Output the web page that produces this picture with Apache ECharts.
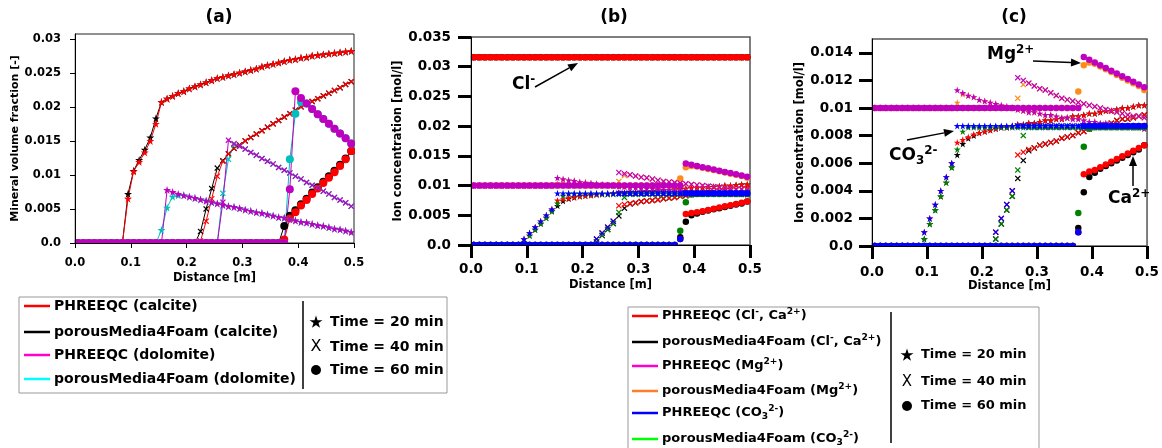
<!DOCTYPE html>
<html>
<head>
<meta charset="utf-8">
<title>Mineral volume fraction and ion concentration</title>
<script src="https://cdn.jsdelivr.net/npm/echarts@6/dist/echarts.min.js"></script>
<style>
  html, body { margin: 0; padding: 0; background: #fff; }
  #chart { width: 1162px; height: 448px; }
</style>
</head>
<body>
<div id="chart"></div>
<script>
var FONT = 'DejaVu Sans';

// cell centres along the column [m]
var distance = [
    0.005, 0.015, 0.025, 0.035, 0.045, 0.055, 0.065, 0.075, 0.085, 0.095,
    0.105, 0.115, 0.125, 0.135, 0.145, 0.155, 0.165, 0.175, 0.185, 0.195,
    0.205, 0.215, 0.225, 0.235, 0.245, 0.255, 0.265, 0.275, 0.285, 0.295,
    0.305, 0.315, 0.325, 0.335, 0.345, 0.355, 0.365, 0.375, 0.385, 0.395,
    0.405, 0.415, 0.425, 0.435, 0.445, 0.455, 0.465, 0.475, 0.485, 0.495
];

// tick labels
var xTicks = [0, 0.1, 0.2, 0.3, 0.4, 0.5];
var yTicksA = [0, 0.005, 0.01, 0.015, 0.02, 0.025, 0.03];
var yTicksB = [0, 0.005, 0.01, 0.015, 0.02, 0.025, 0.03, 0.035];
var yTicksC = [0, 0.002, 0.004, 0.006, 0.008, 0.01, 0.012, 0.014];

// ---- (a) mineral volume fraction [-] ----
var calcitePhreeqc20 = [
    0, 0, 0, 0, 0, 0, 0, 0, 0, 0.0065,
    0.0105, 0.0119, 0.0133, 0.0150, 0.0175, 0.0207, 0.0212, 0.0216, 0.0220, 0.0223,
    0.0227, 0.0230, 0.0233, 0.0236, 0.0239, 0.0242, 0.0244, 0.0246, 0.0248, 0.0250,
    0.0252, 0.0254, 0.0256, 0.0259, 0.0261, 0.0263, 0.0265, 0.0267, 0.0269, 0.0270,
    0.0272, 0.0273, 0.0275, 0.0276, 0.0277, 0.0278, 0.0279, 0.0280, 0.0281, 0.0282
];
var calciteFoam20 = [
    0, 0, 0, 0, 0, 0, 0, 0, 0, 0.0072,
    0.0106, 0.0122, 0.0137, 0.0155, 0.0183, 0.0207, 0.0212, 0.0216, 0.0220, 0.0223,
    0.0227, 0.0230, 0.0233, 0.0236, 0.0239, 0.0242, 0.0244, 0.0246, 0.0248, 0.0250,
    0.0252, 0.0254, 0.0256, 0.0259, 0.0261, 0.0263, 0.0265, 0.0267, 0.0269, 0.0270,
    0.0272, 0.0273, 0.0275, 0.0276, 0.0277, 0.0278, 0.0279, 0.0280, 0.0281, 0.0282
];
var calcitePhreeqc40 = [
    0, 0, 0, 0, 0, 0, 0, 0, 0, 0,
    0, 0, 0, 0, 0, 0, 0, 0, 0, 0,
    0, 0, 0.0003, 0.0032, 0.0065, 0.0098, 0.0120, 0.0131, 0.0139, 0.0144,
    0.0150, 0.0155, 0.0160, 0.0165, 0.0170, 0.0175, 0.0180, 0.0185, 0.0190, 0.0195,
    0.0200, 0.0204, 0.0208, 0.0212, 0.0216, 0.0220, 0.0224, 0.0228, 0.0233, 0.0237
];
var calciteFoam40 = [
    0, 0, 0, 0, 0, 0, 0, 0, 0, 0,
    0, 0, 0, 0, 0, 0, 0, 0, 0, 0,
    0, 0, 0.0017, 0.0050, 0.0080, 0.0110, 0.0121, 0.0131, 0.0139, 0.0144,
    0.0150, 0.0155, 0.0160, 0.0165, 0.0170, 0.0175, 0.0180, 0.0185, 0.0190, 0.0195,
    0.0200, 0.0204, 0.0208, 0.0212, 0.0216, 0.0220, 0.0224, 0.0228, 0.0233, 0.0237
];
var calcitePhreeqc60 = [
    0, 0, 0, 0, 0, 0, 0, 0, 0, 0,
    0, 0, 0, 0, 0, 0, 0, 0, 0, 0,
    0, 0, 0, 0, 0, 0, 0, 0, 0, 0,
    0, 0, 0, 0, 0, 0, 0, 0.0005, 0.0036, 0.0045,
    0.0055, 0.0063, 0.0072, 0.0080, 0.0088, 0.0096, 0.0104, 0.0113, 0.0123, 0.0135
];
var calciteFoam60 = [
    0, 0, 0, 0, 0, 0, 0, 0, 0, 0,
    0, 0, 0, 0, 0, 0, 0, 0, 0, 0,
    0, 0, 0, 0, 0, 0, 0, 0, 0, 0,
    0, 0, 0, 0, 0, 0, 0, 0.0025, 0.0040, 0.0048,
    0.0057, 0.0065, 0.0074, 0.0082, 0.0090, 0.0098, 0.0106, 0.0115, 0.0124, 0.0135
];
var dolomitePhreeqc20 = [
    0, 0, 0, 0, 0, 0, 0, 0, 0, 0,
    0, 0, 0, 0, 0, 0, 0.0078, 0.0075, 0.0072, 0.0070,
    0.0068, 0.0066, 0.0064, 0.0062, 0.0060, 0.0058, 0.0056, 0.0054, 0.0053, 0.0051,
    0.0049, 0.0047, 0.0045, 0.0044, 0.0042, 0.0040, 0.0038, 0.0037, 0.0035, 0.0033,
    0.0031, 0.0030, 0.0028, 0.0026, 0.0025, 0.0023, 0.0021, 0.0020, 0.0018, 0.0016
];
var dolomiteFoam20 = [
    0, 0, 0, 0, 0, 0, 0, 0, 0, 0,
    0, 0, 0, 0, 0, 0.0019, 0.0052, 0.0068, 0.0070, 0.0070,
    0.0068, 0.0066, 0.0064, 0.0062, 0.0060, 0.0058, 0.0056, 0.0054, 0.0053, 0.0051,
    0.0049, 0.0047, 0.0045, 0.0044, 0.0042, 0.0040, 0.0038, 0.0037, 0.0035, 0.0033,
    0.0031, 0.0030, 0.0028, 0.0026, 0.0025, 0.0023, 0.0021, 0.0020, 0.0018, 0.0016
];
var dolomitePhreeqc40 = [
    0, 0, 0, 0, 0, 0, 0, 0, 0, 0,
    0, 0, 0, 0, 0, 0, 0, 0, 0, 0,
    0, 0, 0, 0, 0, 0, 0.0060, 0.0151, 0.0146, 0.0142,
    0.0138, 0.0133, 0.0129, 0.0124, 0.0120, 0.0116, 0.0111, 0.0107, 0.0103, 0.0098,
    0.0094, 0.0089, 0.0085, 0.0081, 0.0076, 0.0072, 0.0067, 0.0063, 0.0059, 0.0054
];
var dolomiteFoam40 = [
    0, 0, 0, 0, 0, 0, 0, 0, 0, 0,
    0, 0, 0, 0, 0, 0, 0, 0, 0, 0,
    0, 0, 0, 0, 0, 0, 0.0073, 0.0123, 0.0144, 0.0142,
    0.0138, 0.0133, 0.0129, 0.0124, 0.0120, 0.0116, 0.0111, 0.0107, 0.0103, 0.0098,
    0.0094, 0.0089, 0.0085, 0.0081, 0.0076, 0.0072, 0.0067, 0.0063, 0.0059, 0.0054
];
var dolomitePhreeqc60 = [
    0, 0, 0, 0, 0, 0, 0, 0, 0, 0,
    0, 0, 0, 0, 0, 0, 0, 0, 0, 0,
    0, 0, 0, 0, 0, 0, 0, 0, 0, 0,
    0, 0, 0, 0, 0, 0, 0, 0, 0.0079, 0.0223,
    0.0213, 0.0205, 0.0197, 0.0189, 0.0182, 0.0175, 0.0168, 0.0161, 0.0154, 0.0146
];
var dolomiteFoam60 = [
    0, 0, 0, 0, 0, 0, 0, 0, 0, 0,
    0, 0, 0, 0, 0, 0, 0, 0, 0, 0,
    0, 0, 0, 0, 0, 0, 0, 0, 0, 0,
    0, 0, 0, 0, 0, 0, 0, 0, 0.0123, 0.0190,
    0.0207, 0.0205, 0.0197, 0.0189, 0.0182, 0.0175, 0.0168, 0.0161, 0.0154, 0.0146
];

// ---- (b), (c) ion concentration [mol/l] ----
// Cl- does not change with time
var chloride = [
    0.0316, 0.0316, 0.0316, 0.0316, 0.0316, 0.0316, 0.0316, 0.0316, 0.0316, 0.0316,
    0.0316, 0.0316, 0.0316, 0.0316, 0.0316, 0.0316, 0.0316, 0.0316, 0.0316, 0.0316,
    0.0316, 0.0316, 0.0316, 0.0316, 0.0316, 0.0316, 0.0316, 0.0316, 0.0316, 0.0316,
    0.0316, 0.0316, 0.0316, 0.0316, 0.0316, 0.0316, 0.0316, 0.0316, 0.0316, 0.0316,
    0.0316, 0.0316, 0.0316, 0.0316, 0.0316, 0.0316, 0.0316, 0.0316, 0.0316, 0.0316
];
var calciumPhreeqc20 = [
    0, 0, 0, 0, 0, 0, 0, 0, 0, 0.0010,
    0.0020, 0.0030, 0.0040, 0.0050, 0.0060, 0.0075, 0.0077, 0.0079, 0.0081, 0.0082,
    0.0083, 0.0084, 0.0085, 0.0086, 0.0086, 0.0087, 0.0088, 0.0088, 0.0089, 0.0089,
    0.0090, 0.0091, 0.0091, 0.0092, 0.0092, 0.0093, 0.0094, 0.0094, 0.0095, 0.0096,
    0.0096, 0.0097, 0.0098, 0.0098, 0.0099, 0.0100, 0.0100, 0.0101, 0.0102, 0.0102
];
var calciumFoam20 = [
    0, 0, 0, 0, 0, 0, 0, 0, 0, 0.0005,
    0.0016, 0.0026, 0.0036, 0.0046, 0.0057, 0.0066, 0.0074, 0.0078, 0.0080, 0.0082,
    0.0083, 0.0084, 0.0085, 0.0086, 0.0086, 0.0087, 0.0088, 0.0088, 0.0089, 0.0089,
    0.0090, 0.0091, 0.0091, 0.0092, 0.0092, 0.0093, 0.0094, 0.0094, 0.0095, 0.0096,
    0.0096, 0.0097, 0.0098, 0.0098, 0.0099, 0.0100, 0.0100, 0.0101, 0.0102, 0.0102
];
var calciumPhreeqc40 = [
    0, 0, 0, 0, 0, 0, 0, 0, 0, 0,
    0, 0, 0, 0, 0, 0, 0, 0, 0, 0,
    0, 0, 0.0010, 0.0020, 0.0030, 0.0040, 0.0066, 0.0068, 0.0070, 0.0071,
    0.0073, 0.0074, 0.0075, 0.0076, 0.0078, 0.0079, 0.0080, 0.0082, 0.0083, 0.0085,
    0.0086, 0.0087, 0.0088, 0.0089, 0.0091, 0.0092, 0.0092, 0.0093, 0.0094, 0.0095
];
var calciumFoam40 = [
    0, 0, 0, 0, 0, 0, 0, 0, 0, 0,
    0, 0, 0, 0, 0, 0, 0, 0, 0, 0,
    0, 0, 0.0005, 0.0016, 0.0026, 0.0036, 0.0049, 0.0062, 0.0069, 0.0071,
    0.0073, 0.0074, 0.0075, 0.0076, 0.0078, 0.0079, 0.0080, 0.0082, 0.0083, 0.0085,
    0.0086, 0.0087, 0.0088, 0.0089, 0.0091, 0.0092, 0.0092, 0.0093, 0.0094, 0.0095
];
var calciumPhreeqc60 = [
    0, 0, 0, 0, 0, 0, 0, 0, 0, 0,
    0, 0, 0, 0, 0, 0, 0, 0, 0, 0,
    0, 0, 0, 0, 0, 0, 0, 0, 0, 0,
    0, 0, 0, 0, 0, 0, 0, 0.0010, 0.0052, 0.0054,
    0.0055, 0.0057, 0.0059, 0.0061, 0.0063, 0.0065, 0.0067, 0.0069, 0.0071, 0.0073
];
var calciumFoam60 = [
    0, 0, 0, 0, 0, 0, 0, 0, 0, 0,
    0, 0, 0, 0, 0, 0, 0, 0, 0, 0,
    0, 0, 0, 0, 0, 0, 0, 0, 0, 0,
    0, 0, 0, 0, 0, 0, 0, 0.0013, 0.0039, 0.0050,
    0.0053, 0.0056, 0.0058, 0.0060, 0.0062, 0.0064, 0.0066, 0.0068, 0.0070, 0.0073
];
var magnesiumPhreeqc20 = [
    0.0100, 0.0100, 0.0100, 0.0100, 0.0100, 0.0100, 0.0100, 0.0100, 0.0100, 0.0100,
    0.0100, 0.0100, 0.0100, 0.0100, 0.0100, 0.0113, 0.0111, 0.0109, 0.0108, 0.0106,
    0.0105, 0.0104, 0.0103, 0.0102, 0.0101, 0.0100, 0.0099, 0.0098, 0.0097, 0.0097,
    0.0096, 0.0095, 0.0095, 0.0094, 0.0093, 0.0093, 0.0092, 0.0092, 0.0091, 0.0090,
    0.0090, 0.0089, 0.0089, 0.0088, 0.0088, 0.0087, 0.0087, 0.0086, 0.0086, 0.0085
];
var magnesiumFoam20 = [
    0.0100, 0.0100, 0.0100, 0.0100, 0.0100, 0.0100, 0.0100, 0.0100, 0.0100, 0.0100,
    0.0100, 0.0100, 0.0100, 0.0100, 0.0100, 0.0104, 0.0110, 0.0109, 0.0108, 0.0106,
    0.0105, 0.0104, 0.0103, 0.0102, 0.0101, 0.0100, 0.0099, 0.0098, 0.0097, 0.0097,
    0.0096, 0.0095, 0.0095, 0.0094, 0.0093, 0.0093, 0.0092, 0.0092, 0.0091, 0.0090,
    0.0090, 0.0089, 0.0089, 0.0088, 0.0088, 0.0087, 0.0087, 0.0086, 0.0086, 0.0085
];
var magnesiumPhreeqc40 = [
    0.0100, 0.0100, 0.0100, 0.0100, 0.0100, 0.0100, 0.0100, 0.0100, 0.0100, 0.0100,
    0.0100, 0.0100, 0.0100, 0.0100, 0.0100, 0.0100, 0.0100, 0.0100, 0.0100, 0.0100,
    0.0100, 0.0100, 0.0100, 0.0100, 0.0100, 0.0100, 0.0122, 0.0120, 0.0118, 0.0116,
    0.0114, 0.0113, 0.0111, 0.0109, 0.0107, 0.0106, 0.0105, 0.0104, 0.0103, 0.0102,
    0.0101, 0.0100, 0.0099, 0.0098, 0.0097, 0.0096, 0.0095, 0.0094, 0.0094, 0.0093
];
var magnesiumFoam40 = [
    0.0100, 0.0100, 0.0100, 0.0100, 0.0100, 0.0100, 0.0100, 0.0100, 0.0100, 0.0100,
    0.0100, 0.0100, 0.0100, 0.0100, 0.0100, 0.0100, 0.0100, 0.0100, 0.0100, 0.0100,
    0.0100, 0.0100, 0.0100, 0.0100, 0.0100, 0.0100, 0.0107, 0.0117, 0.0118, 0.0116,
    0.0114, 0.0113, 0.0111, 0.0109, 0.0107, 0.0106, 0.0105, 0.0104, 0.0103, 0.0102,
    0.0101, 0.0100, 0.0099, 0.0098, 0.0097, 0.0096, 0.0095, 0.0094, 0.0094, 0.0093
];
var magnesiumPhreeqc60 = [
    0.0100, 0.0100, 0.0100, 0.0100, 0.0100, 0.0100, 0.0100, 0.0100, 0.0100, 0.0100,
    0.0100, 0.0100, 0.0100, 0.0100, 0.0100, 0.0100, 0.0100, 0.0100, 0.0100, 0.0100,
    0.0100, 0.0100, 0.0100, 0.0100, 0.0100, 0.0100, 0.0100, 0.0100, 0.0100, 0.0100,
    0.0100, 0.0100, 0.0100, 0.0100, 0.0100, 0.0100, 0.0100, 0.0100, 0.0137, 0.0135,
    0.0133, 0.0131, 0.0129, 0.0127, 0.0125, 0.0123, 0.0121, 0.0119, 0.0117, 0.0115
];
var magnesiumFoam60 = [
    0.0100, 0.0100, 0.0100, 0.0100, 0.0100, 0.0100, 0.0100, 0.0100, 0.0100, 0.0100,
    0.0100, 0.0100, 0.0100, 0.0100, 0.0100, 0.0100, 0.0100, 0.0100, 0.0100, 0.0100,
    0.0100, 0.0100, 0.0100, 0.0100, 0.0100, 0.0100, 0.0100, 0.0100, 0.0100, 0.0100,
    0.0100, 0.0100, 0.0100, 0.0100, 0.0100, 0.0100, 0.0100, 0.0112, 0.0131, 0.0133,
    0.0132, 0.0130, 0.0128, 0.0126, 0.0124, 0.0122, 0.0120, 0.0118, 0.0116, 0.0113
];
var carbonatePhreeqc20 = [
    0, 0, 0, 0, 0, 0, 0, 0, 0, 0.0010,
    0.0020, 0.0030, 0.0040, 0.0050, 0.0060, 0.0087, 0.0087, 0.0087, 0.0087, 0.0087,
    0.0087, 0.0087, 0.0087, 0.0087, 0.0087, 0.0087, 0.0087, 0.0087, 0.0087, 0.0087,
    0.0087, 0.0087, 0.0087, 0.0087, 0.0087, 0.0087, 0.0087, 0.0087, 0.0087, 0.0087,
    0.0087, 0.0087, 0.0087, 0.0087, 0.0087, 0.0087, 0.0087, 0.0087, 0.0087, 0.0087
];
var carbonateFoam20 = [
    0, 0, 0, 0, 0, 0, 0, 0, 0, 0.0005,
    0.0016, 0.0026, 0.0036, 0.0046, 0.0057, 0.0070, 0.0083, 0.0086, 0.0086, 0.0086,
    0.0086, 0.0086, 0.0086, 0.0086, 0.0086, 0.0086, 0.0086, 0.0086, 0.0086, 0.0086,
    0.0086, 0.0086, 0.0086, 0.0086, 0.0086, 0.0086, 0.0086, 0.0086, 0.0086, 0.0086,
    0.0086, 0.0086, 0.0086, 0.0086, 0.0086, 0.0086, 0.0086, 0.0086, 0.0086, 0.0086
];
var carbonatePhreeqc40 = [
    0, 0, 0, 0, 0, 0, 0, 0, 0, 0,
    0, 0, 0, 0, 0, 0, 0, 0, 0, 0,
    0, 0, 0.0010, 0.0020, 0.0030, 0.0040, 0.0087, 0.0087, 0.0087, 0.0087,
    0.0087, 0.0087, 0.0087, 0.0087, 0.0087, 0.0087, 0.0087, 0.0087, 0.0087, 0.0087,
    0.0087, 0.0087, 0.0087, 0.0087, 0.0087, 0.0087, 0.0087, 0.0087, 0.0087, 0.0087
];
var carbonateFoam40 = [
    0, 0, 0, 0, 0, 0, 0, 0, 0, 0,
    0, 0, 0, 0, 0, 0, 0, 0, 0, 0,
    0, 0, 0.0005, 0.0016, 0.0026, 0.0036, 0.0055, 0.0080, 0.0086, 0.0086,
    0.0086, 0.0086, 0.0086, 0.0086, 0.0086, 0.0086, 0.0086, 0.0086, 0.0086, 0.0086,
    0.0086, 0.0086, 0.0086, 0.0086, 0.0086, 0.0086, 0.0086, 0.0086, 0.0086, 0.0086
];
var carbonatePhreeqc60 = [
    0, 0, 0, 0, 0, 0, 0, 0, 0, 0,
    0, 0, 0, 0, 0, 0, 0, 0, 0, 0,
    0, 0, 0, 0, 0, 0, 0, 0, 0, 0,
    0, 0, 0, 0, 0, 0, 0, 0.0010, 0.0087, 0.0087,
    0.0087, 0.0087, 0.0087, 0.0087, 0.0087, 0.0087, 0.0087, 0.0087, 0.0087, 0.0087
];
var carbonateFoam60 = [
    0, 0, 0, 0, 0, 0, 0, 0, 0, 0,
    0, 0, 0, 0, 0, 0, 0, 0, 0, 0,
    0, 0, 0, 0, 0, 0, 0, 0, 0, 0,
    0, 0, 0, 0, 0, 0, 0, 0.0024, 0.0072, 0.0085,
    0.0086, 0.0086, 0.0086, 0.0086, 0.0086, 0.0086, 0.0086, 0.0086, 0.0086, 0.0086
];

// marker shapes, one per time (points in a 100x100 box)
var STAR_POINTS = [ [50, 0], [61.8, 36.2], [100, 36.2], [69.1, 58.6], [80.9, 95],
    [50, 72.4], [19.1, 95], [30.9, 58.6], [0, 36.2], [38.2, 36.2] ];
var CROSS_POINTS = [ [0, 14], [14, 0], [50, 36], [86, 0], [100, 14], [64, 50],
    [100, 86], [86, 100], [50, 64], [14, 100], [0, 86], [36, 50] ];

function toPath(points) {
    return 'path://M' + points.map(function(p) { return p[0] + ',' + p[1]; }).join(' L') + ' Z';
}

var MARKER = { 20 : toPath(STAR_POINTS), 40 : toPath(CROSS_POINTS), 60 : 'circle' };

var RED = '#ff0000', BLACK = '#000000', MAGENTA = '#bf00bf', CYAN = '#00bfbf',
    ORANGE = '#ff8c1a', BLUE = '#0000ff', GREEN = '#008000';

// plot rectangles [left, top, width, height]
var GRIDS = [ [ 75, 34, 279, 209 ], [ 471, 37, 279, 208 ], [ 872, 39, 280, 207 ] ];

var page = {
    chart : null,
    /**
     * 页面初始化
     */
    init : function() {
        this.chart = echarts.init(document.getElementById('chart'), null, { renderer : 'canvas' });
        this.chart.setOption({
            animation : false,
            backgroundColor : '#fff',
            grid : GRIDS.map(function(g, i) {
                return {
                    left : g[0], top : g[1], width : g[2], height : g[3], show : true,
                    borderColor : i === 0 ? '#222' : '#555', borderWidth : i === 0 ? 1 : 1.5
                };
            }),
            xAxis : [
                this.xAxis(0, 11.5, 14, 5, 1, 29),
                this.xAxis(1, 13.5, 17, 13, 3, 34),
                this.xAxis(2, 13.5, 19, 13, 3, 25)
            ],
            yAxis : [
                this.yAxis(0, 0.0307, yTicksA, 'Mineral volume fraction [-]', 11.5, 14, 5, 1, 52),
                this.yAxis(1, 0.035, yTicksB, 'Ion concentration [mol/l]', 13.5, 20, 13, 3, 63),
                this.yAxis(2, 0.015, yTicksC, 'Ion concentration [mol/l]', 13.5, 19, 13, 3, 64)
            ],
            series : this.mineralSeries().concat(this.ionSeries(1), this.ionSeries(2)),
            graphic : { elements : this.decorations() }
        });
    },
    pairs : function(values) {
        return distance.map(function(x, i) {
            return [ x, values[i] ];
        });
    },
    tickText : function(v) {
        return v === 0 ? '0.0' : String(parseFloat(v.toFixed(4)));
    },
    xAxis : function(g, size, margin, tickLen, tickWidth, nameGap) {
        return {
            type : 'value', gridIndex : g, min : 0, max : 0.5, interval : 0.1, z : 10,
            name : 'Distance [m]', nameLocation : 'middle', nameGap : nameGap,
            nameTextStyle : { fontFamily : FONT, fontWeight : 'bold', fontSize : 11.5, color : '#000' },
            axisLine : { show : true, onZero : false, lineStyle : { color : '#000', width : 1 } },
            axisTick : { show : true, length : tickLen, customValues : xTicks, lineStyle : { color : '#000', width : tickWidth } },
            axisLabel : {
                fontFamily : FONT, fontWeight : 'bold', fontSize : size, color : '#000', margin : margin,
                customValues : xTicks,
                formatter : function(v) { return v.toFixed(1); }
            },
            splitLine : { show : false }
        };
    },
    yAxis : function(g, max, ticks, name, size, margin, tickLen, tickWidth, nameGap) {
        var self = this;
        return {
            type : 'value', gridIndex : g, min : 0, max : max, z : 10,
            name : name, nameLocation : 'middle', nameGap : nameGap,
            nameTextStyle : { fontFamily : FONT, fontWeight : 'bold', fontSize : g === 0 ? 11 : 11.5, color : '#000' },
            axisLine : { show : true, onZero : false, lineStyle : { color : '#000', width : 1 } },
            axisTick : { show : true, length : tickLen, customValues : ticks, lineStyle : { color : '#000', width : tickWidth } },
            axisLabel : {
                fontFamily : FONT, fontWeight : 'bold', fontSize : size, color : '#000', margin : margin,
                customValues : ticks,
                formatter : function(v) { return self.tickText(v); }
            },
            splitLine : { show : false }
        };
    },
    /**
     * (a) 矿物体积分数，折线 + 标记
     */
    mineralSeries : function() {
        var rows = [
            [ calciteFoam20, BLACK, 20 ], [ calciteFoam40, BLACK, 40 ], [ calciteFoam60, BLACK, 60 ],
            [ calcitePhreeqc20, RED, 20 ], [ calcitePhreeqc40, RED, 40 ], [ calcitePhreeqc60, RED, 60 ],
            [ dolomiteFoam20, CYAN, 20 ], [ dolomiteFoam40, CYAN, 40 ], [ dolomiteFoam60, CYAN, 60 ],
            [ dolomitePhreeqc20, MAGENTA, 20 ], [ dolomitePhreeqc40, MAGENTA, 40 ], [ dolomitePhreeqc60, MAGENTA, 60 ]
        ];
        var size = { 20 : 8, 40 : 6, 60 : 8 };
        var self = this;
        return rows.map(function(r) {
            return {
                type : 'line', xAxisIndex : 0, yAxisIndex : 0,
                data : self.pairs(r[0]),
                symbol : MARKER[r[2]], symbolSize : size[r[2]], showSymbol : true,
                lineStyle : { color : r[1], width : 1 },
                itemStyle : { color : r[1] },
                clip : true
            };
        });
    },
    /**
     * (b)(c) 离子浓度，只画标记
     */
    ionSeries : function(g) {
        var rows = [
            [ chloride, BLACK, 20 ], [ chloride, BLACK, 40 ], [ chloride, BLACK, 60 ],
            [ chloride, RED, 20 ], [ chloride, RED, 40 ], [ chloride, RED, 60 ],
            [ calciumFoam20, BLACK, 20 ], [ calciumFoam40, BLACK, 40 ], [ calciumFoam60, BLACK, 60 ],
            [ calciumPhreeqc20, RED, 20 ], [ calciumPhreeqc40, RED, 40 ], [ calciumPhreeqc60, RED, 60 ],
            [ magnesiumFoam20, ORANGE, 20 ], [ magnesiumFoam40, ORANGE, 40 ], [ magnesiumFoam60, ORANGE, 60 ],
            [ magnesiumPhreeqc20, MAGENTA, 20 ], [ magnesiumPhreeqc40, MAGENTA, 40 ], [ magnesiumPhreeqc60, MAGENTA, 60 ],
            [ carbonateFoam20, GREEN, 20 ], [ carbonateFoam40, GREEN, 40 ], [ carbonateFoam60, GREEN, 60 ],
            [ carbonatePhreeqc20, BLUE, 20 ], [ carbonatePhreeqc40, BLUE, 40 ], [ carbonatePhreeqc60, BLUE, 60 ]
        ];
        var size = { 20 : 7, 40 : 6, 60 : 6.5 };
        var self = this;
        return rows.map(function(r) {
            return {
                type : 'scatter', xAxisIndex : g, yAxisIndex : g,
                data : self.pairs(r[0]),
                symbol : MARKER[r[2]], symbolSize : size[r[2]],
                itemStyle : { color : r[1], opacity : 1 },
                clip : true
            };
        });
    },
    /**
     * 白色遮罩，把落在坐标框外的半个标记裁掉（坐标轴 z 更高，仍在上面）
     */
    masks : function() {
        var els = [];
        GRIDS.forEach(function(g) {
            els.push({ type : 'rect', z : 5, shape : { x : g[0] - 6, y : g[1] + g[3] + 0.5, width : g[2] + 12, height : 5 },
                style : { fill : '#fff' } });
            els.push({ type : 'rect', z : 5, shape : { x : g[0] - 6, y : g[1] - 5, width : 5.5, height : g[3] + 10 },
                style : { fill : '#fff' } });
            els.push({ type : 'rect', z : 5, shape : { x : g[0] + g[2] + 1, y : g[1] - 5, width : 5, height : g[3] + 10 },
                style : { fill : '#fff' } });
        });
        return els;
    },
    rich : function(size) {
        return {
            sup : { fontFamily : FONT, fontWeight : 'bold', fontSize : size * 0.7, verticalAlign : 'top', lineHeight : size * 0.72, fill : '#000' },
            sub : { fontFamily : FONT, fontWeight : 'bold', fontSize : size * 0.7, verticalAlign : 'bottom', lineHeight : size * 0.72, fill : '#000' }
        };
    },
    text : function(str, x, y, size, align, weight) {
        return {
            type : 'text', x : x, y : y, z : 100,
            style : {
                text : str, fontFamily : FONT, fontWeight : weight || 'bold', fontSize : size,
                fill : '#000', align : align || 'left', verticalAlign : 'middle',
                lineHeight : Math.round(size * 1.3), rich : this.rich(size)
            }
        };
    },
    arrow : function(x1, y1, x2, y2) {
        var ang = Math.atan2(y2 - y1, x2 - x1), len = 10, w = 4;
        var bx = x2 - len * Math.cos(ang), by = y2 - len * Math.sin(ang);
        var px = -Math.sin(ang) * w, py = Math.cos(ang) * w;
        return [ {
            type : 'line', z : 100,
            shape : { x1 : x1, y1 : y1, x2 : bx, y2 : by },
            style : { stroke : '#000', lineWidth : 1.5 }
        }, {
            type : 'polygon', z : 100,
            shape : { points : [ [ x2, y2 ], [ bx + px, by + py ], [ bx - px, by - py ] ] },
            style : { fill : '#000' }
        } ];
    },
    legend : function(box, entries, divider, times, size) {
        var self = this;
        var els = [ {
            type : 'rect', z : 90,
            shape : box,
            style : { fill : '#fff', stroke : '#999', lineWidth : 1 }
        }, {
            type : 'line', z : 100,
            shape : { x1 : divider.x, y1 : divider.y1, x2 : divider.x, y2 : divider.y2 },
            style : { stroke : '#000', lineWidth : 1.5 }
        } ];
        entries.forEach(function(e) {
            els.push({
                type : 'line', z : 100,
                shape : { x1 : e.x, y1 : e.y, x2 : e.x + 26, y2 : e.y },
                style : { stroke : e.color, lineWidth : 2.5 }
            });
            els.push(self.text(e.label, e.x + 30, e.y, size));
        });
        // time markers
        els.push({
            type : 'polygon', z : 100,
            shape : { points : STAR_POINTS.map(function(p) {
                return [ times.x - 6.5 + p[0] * 0.13, times.y[0] - 6.5 + p[1] * 0.13 ];
            }) },
            style : { fill : '#000' }
        });
        els.push(this.text('X', times.x, times.y[1], size + 2, 'center', 'normal'));
        els.push({
            type : 'circle', z : 100,
            shape : { cx : times.x, cy : times.y[2], r : 5 },
            style : { fill : '#000' }
        });
        els.push(this.text('Time = 20 min', times.x + 14, times.y[0], size));
        els.push(this.text('Time = 40 min', times.x + 14, times.y[1], size));
        els.push(this.text('Time = 60 min', times.x + 14, times.y[2], size));
        return els;
    },
    decorations : function() {
        var els = this.masks().concat([
            this.text('(a)', 219, 18, 17, 'center'),
            this.text('(b)', 614, 18, 17, 'center'),
            this.text('(c)', 1014, 18, 17, 'center'),
            this.text('Cl{sup|-}', 512, 85, 17),
            this.text('Mg{sup|2+}', 987, 55, 17),
            this.text('CO{sub|3}{sup|2-}', 889, 156, 17),
            this.text('Ca{sup|2+}', 1108, 199, 17)
        ]);
        els = els.concat(
            this.arrow(535, 87, 578, 63),
            this.arrow(1033, 61, 1081, 63),
            this.arrow(907, 140, 954, 131),
            this.arrow(1133, 186, 1133, 156)
        );
        els = els.concat(this.legend(
            { x : 19, y : 297, width : 428, height : 96 },
            [
                { x : 24, y : 306, color : '#ff0000', label : 'PHREEQC (calcite)' },
                { x : 24, y : 332, color : '#000000', label : 'porousMedia4Foam (calcite)' },
                { x : 24, y : 355, color : '#ff00cc', label : 'PHREEQC (dolomite)' },
                { x : 24, y : 379, color : '#00ffff', label : 'porousMedia4Foam (dolomite)' }
            ],
            { x : 303, y1 : 301, y2 : 389 },
            { x : 316, y : [ 322, 347, 370 ] },
            14
        ));
        els = els.concat(this.legend(
            { x : 628, y : 307, width : 411, height : 160 },
            [
                { x : 632, y : 316, color : '#ff0000', label : 'PHREEQC (Cl{sup|-}, Ca{sup|2+})' },
                { x : 632, y : 342, color : '#000000', label : 'porousMedia4Foam (Cl{sup|-}, Ca{sup|2+})' },
                { x : 632, y : 366, color : '#ff00cc', label : 'PHREEQC (Mg{sup|2+})' },
                { x : 632, y : 391, color : '#ff7f27', label : 'porousMedia4Foam (Mg{sup|2+})' },
                { x : 632, y : 413, color : '#0000ff', label : 'PHREEQC (CO{sub|3}{sup|2-})' },
                { x : 632, y : 439, color : '#00ff00', label : 'porousMedia4Foam (CO{sub|3}{sup|2-})' }
            ],
            { x : 891, y1 : 312, y2 : 443 },
            { x : 907, y : [ 355, 382, 406 ] },
            13
        ));
        return els;
    }
};

page.init();
</script>
</body>
</html>
